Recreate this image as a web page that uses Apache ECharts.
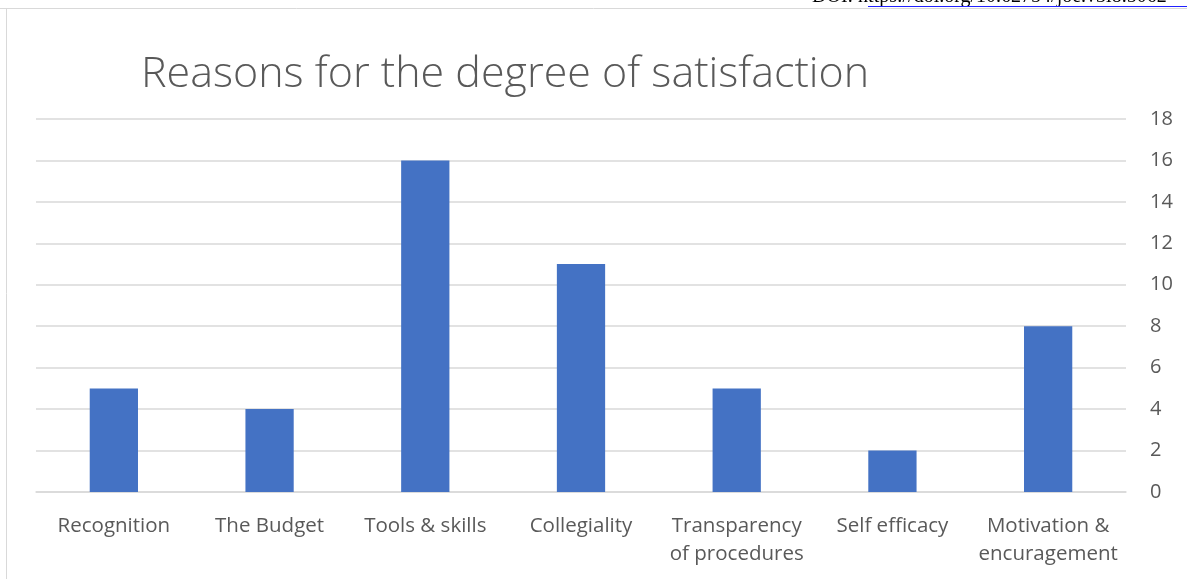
<!DOCTYPE html>
<html><head><meta charset="utf-8">
<script src="https://cdn.jsdelivr.net/npm/echarts@6/dist/echarts.min.js"></script>
<style>html,body{margin:0;padding:0;background:#fff}#c{width:1187px;height:579px}</style>
</head><body><div id="c"></div>
<script>
const categories = ['Recognition', 'The Budget', 'Tools & skills', 'Collegiality', 'Transparency\nof procedures', 'Self efficacy', 'Motivation &\nencuragement'];
const values = [5, 4, 16, 11, 5, 2, 8];
const titleText = 'Reasons for the degree of satisfaction';
const doiLabel = 'DOI: ';
const doiLink = 'https://doi.org/10.62754/joe.v3i8.5062';

const chart = echarts.init(document.getElementById('c'));
chart.setOption({
  animation: false,
  title: {
    text: titleText, left: 136, top: 48,
    textStyle: { fontFamily: 'Open Sans', fontWeight: 300, fontSize: 43, color: '#595959' }
  },
  grid: { left: 36, right: 61, top: 119, bottom: 87 },
  xAxis: {
    type: 'category', data: categories,
    axisLine: { lineStyle: { color: '#d9d9d9', width: 1.5 } },
    axisTick: { show: false },
    axisLabel: { color: '#595959', fontFamily: 'Open Sans', fontSize: 20.5, margin: 20, lineHeight: 28, interval: 0 }
  },
  yAxis: {
    type: 'value', position: 'right', min: 0, max: 18, interval: 2,
    axisLine: { show: false }, axisTick: { show: false },
    splitLine: { lineStyle: { color: '#d9d9d9', width: 1.5 } },
    axisLabel: { color: '#595959', fontFamily: 'Open Sans', fontSize: 20, margin: 24, align: 'left' }
  },
  series: [{ type: 'bar', data: values, barWidth: '31%', itemStyle: { color: '#4472c4' } }],
  graphic: [
    { type: 'line', shape: { x1: 0, y1: 8.5, x2: 1187, y2: 8.5 }, style: { stroke: '#d9d9d9', lineWidth: 1 } },
    { type: 'line', shape: { x1: 6.5, y1: 8, x2: 6.5, y2: 579 }, style: { stroke: '#d9d9d9', lineWidth: 1 } },
    { type: 'text', x: 812, y: -13, style: { text: '{a|' + doiLabel + '}{b|' + doiLink + '}', rich: {
        a: { fontFamily: 'Liberation Serif', fontSize: 20, color: '#1a1a1a' },
        b: { fontFamily: 'Liberation Serif', fontSize: 20, color: '#2020ff', textDecoration: 'underline' }
    } } },
    { type: 'line', shape: { x1: 868, y1: 6.5, x2: 1187, y2: 6.5 }, style: { stroke: '#2020ff', lineWidth: 1 } }
  ]
});
</script></body></html>
